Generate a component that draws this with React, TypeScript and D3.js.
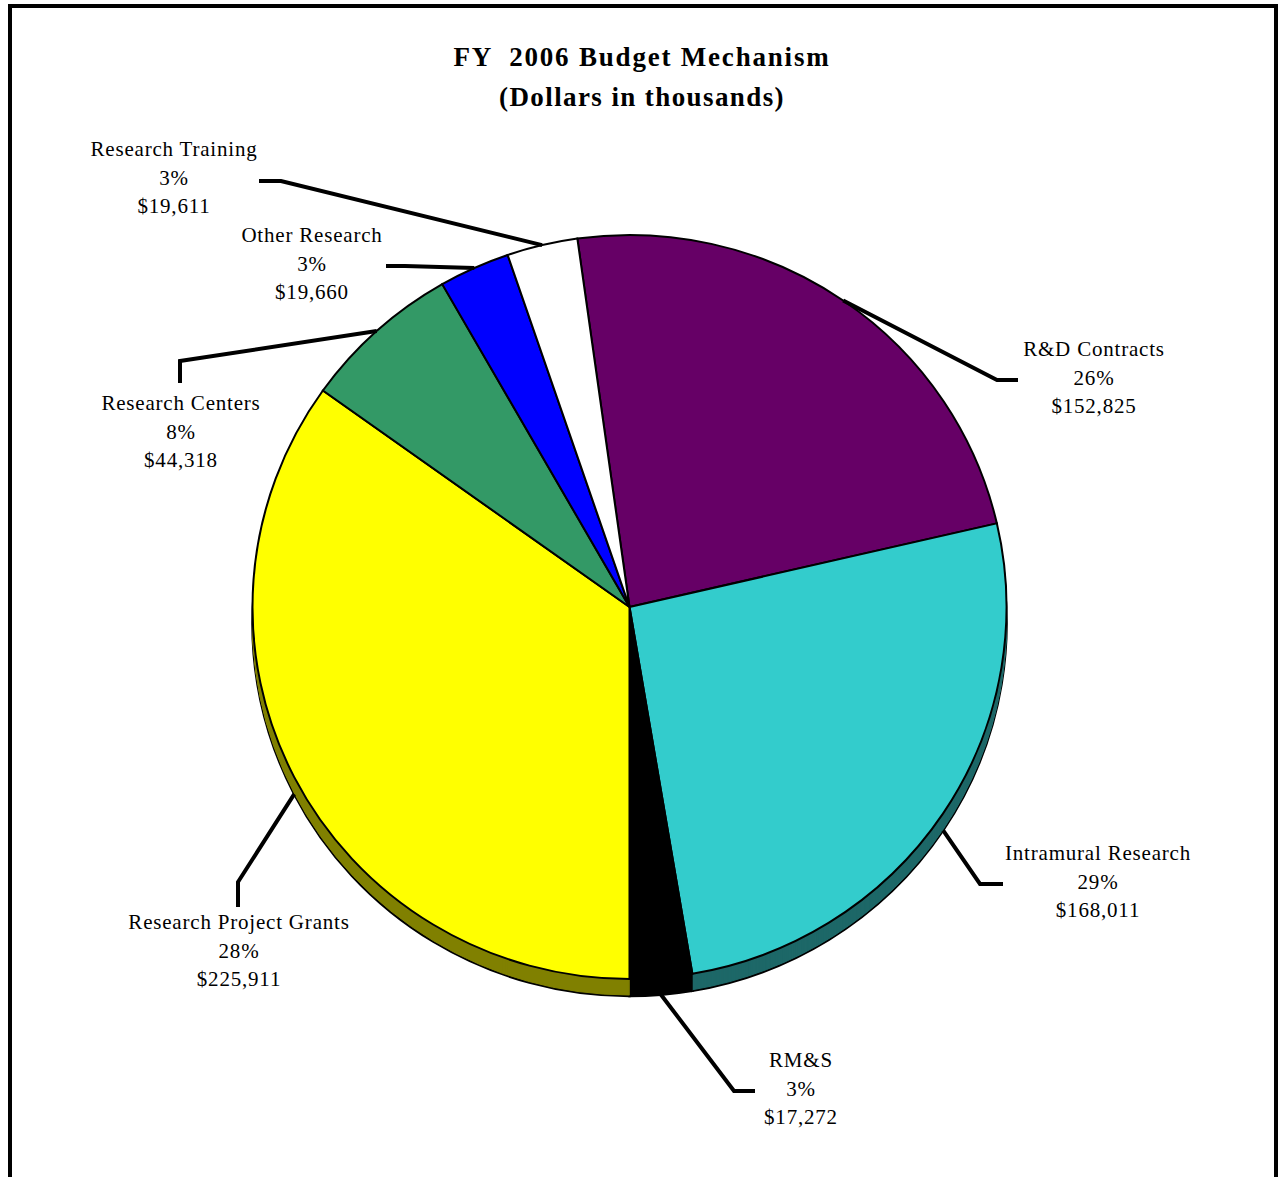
import React from "react";
import * as d3 from "d3";

const categories = [
  "R&D Contracts",
  "Intramural Research",
  "RM&S",
  "Research Project Grants",
  "Research Centers",
  "Other Research",
  "Research Training",
];
const values = [152825, 168011, 17272, 225911, 44318, 19660, 19611];
const percentLabels = ["26%", "29%", "3%", "28%", "8%", "3%", "3%"];
const dollarLabels = ["$152,825", "$168,011", "$17,272", "$225,911", "$44,318", "$19,660", "$19,611"];

const topColors = ["#660066", "#33CCCC", "#000000", "#FFFF00", "#339966", "#0000FF", "#FFFFFF"];
const sideColors = ["#330033", "#1D6868", "#000000", "#808000", "#1A4D33", "#000080", "#808080"];

// label layout: elbow, end of leader, label centre x, first line centre y
const labelLayout = [
  { elbow: [997, 380], end: [1018, 380], lx: 1094, ly: 349 },
  { elbow: [980, 884], end: [1003, 884], lx: 1098, ly: 853 },
  { elbow: [734, 1091], end: [755, 1091], lx: 801, ly: 1060 },
  { elbow: [238, 882], end: [238, 907], lx: 239, ly: 922 },
  { elbow: [180, 361], end: [180, 383], lx: 181, ly: 403 },
  { elbow: [405, 266], end: [386, 266], lx: 312, ly: 235 },
  { elbow: [281, 181], end: [259, 181], lx: 174, ly: 149 },
];

const W = 1278;
const H = 1177;
const cx = 629.5;
const cy = 607;
const rx = 377;
const ry = 372;
const depth = 17;
const startDeg = -7.95;
const FONT = "'Times New Roman', 'Liberation Serif', serif";

export default function App() {
  const pie = d3
    .pie<number>()
    .sort(null)
    .value((d) => d)
    .startAngle((startDeg * Math.PI) / 180)
    .endAngle((startDeg * Math.PI) / 180 + 2 * Math.PI);
  const arcs = pie(values);
  const arcGen = d3.arc<d3.PieArcDatum<number>>().innerRadius(0).outerRadius(rx);
  const sy = ry / rx;

  const layers: number[] = [];
  for (let d = depth; d >= 1; d--) layers.push(d);

  const lineH = 28.7;

  return (
    <svg
      width={W}
      height={H}
      style={{ position: "absolute", left: 0, top: 0, background: "#fff" }}
      fontFamily={FONT}
    >
      <rect x={10} y={6} width={1266} height={1300} fill="none" stroke="#000" strokeWidth={4} />

      <text
        x={642}
        y={57}
        textAnchor="middle"
        dominantBaseline="central"
        fontSize={27}
        fontWeight="bold"
        letterSpacing={1.8}
        style={{ whiteSpace: "pre" }}
      >
        {"FY  2006 Budget Mechanism"}
      </text>
      <text x={642} y={97} textAnchor="middle" dominantBaseline="central" fontSize={27} fontWeight="bold" letterSpacing={1.4}>
        (Dollars in thousands)
      </text>

      {/* side (depth) */}
      {layers.map((d) => (
        <g key={"layer" + d} transform={`translate(${cx},${cy + d}) scale(1,${sy})`}>
          {arcs.map((a, i) => (
            <path
              key={i}
              d={arcGen(a) || ""}
              fill={sideColors[i]}
              stroke={d === depth ? "#000" : sideColors[i]}
              strokeWidth={d === depth ? 2.5 : 1}
            />
          ))}
        </g>
      ))}

      {/* top face */}
      <g transform={`translate(${cx},${cy}) scale(1,${sy})`}>
        {arcs.map((a, i) => (
          <path key={i} d={arcGen(a) || ""} fill={topColors[i]} stroke="#000" strokeWidth={2} />
        ))}
      </g>

      {/* leaders and labels */}
      {arcs.map((a, i) => {
        const mid = (a.startAngle + a.endAngle) / 2;
        const sx = cx + rx * Math.sin(mid);
        const c = Math.cos(mid);
        const syp = cy - ry * c + (c < 0 ? depth : 0);
        const L = labelLayout[i];
        const pts = `${sx},${syp} ${L.elbow[0]},${L.elbow[1]} ${L.end[0]},${L.end[1]}`;
        return (
          <g key={"lab" + i}>
            <polyline points={pts} fill="none" stroke="#000" strokeWidth={4} strokeLinejoin="miter" />
            {[categories[i], percentLabels[i], dollarLabels[i]].map((t, k) => (
              <text
                key={k}
                x={L.lx}
                y={L.ly + k * lineH}
                textAnchor="middle"
                dominantBaseline="central"
                fontSize={21}
                letterSpacing={0.8}
                fill="#000"
              >
                {t}
              </text>
            ))}
          </g>
        );
      })}
    </svg>
  );
}
